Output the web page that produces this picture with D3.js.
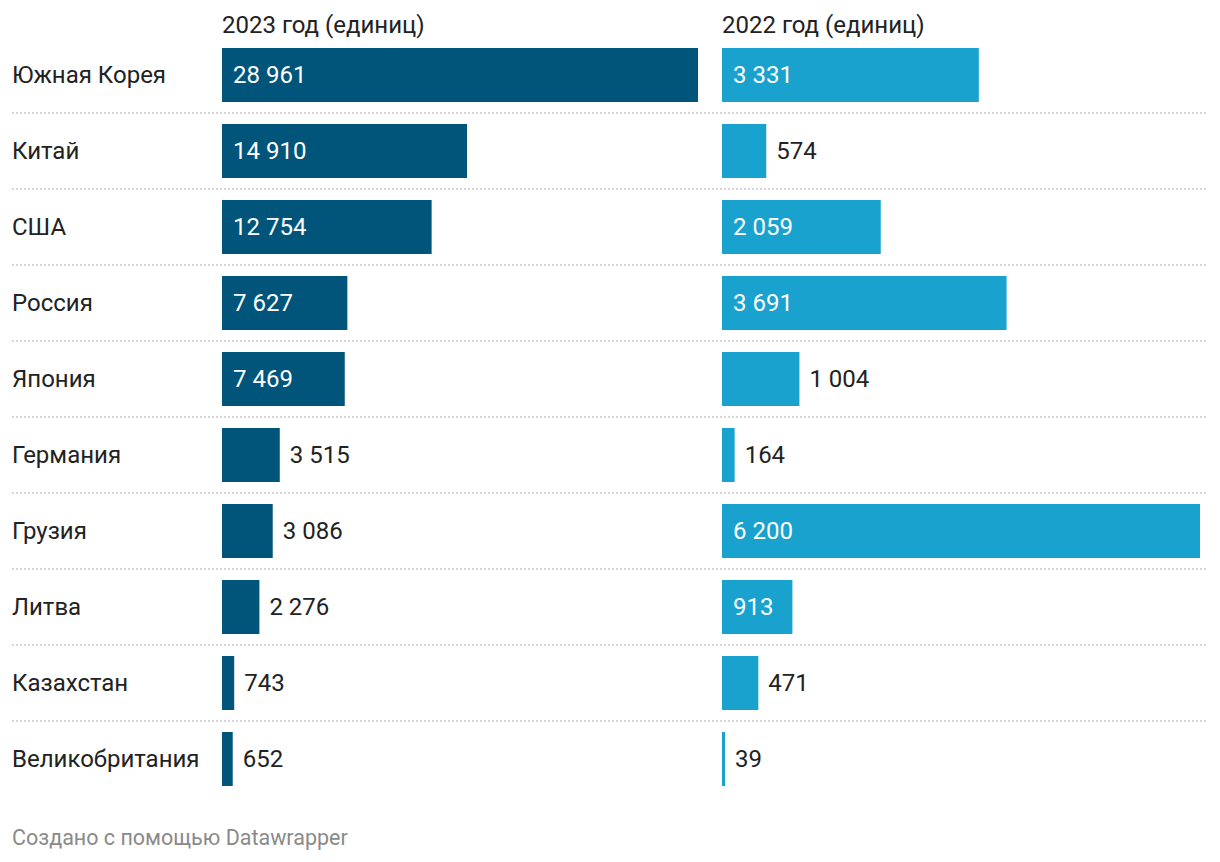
<!DOCTYPE html>
<html><head><meta charset="utf-8">
<script src="https://cdn.jsdelivr.net/npm/d3@7"></script>
<style>
body{margin:0;background:#fff;}
svg{font-family:Roboto,"Noto Sans",sans-serif;}
</style></head>
<body>
<svg id="chart" width="1220" height="862"></svg>
<script>
const countries = ["Южная Корея","Китай","США","Россия","Япония","Германия","Грузия","Литва","Казахстан","Великобритания"];
const values2023 = [28961,14910,12754,7627,7469,3515,3086,2276,743,652];
const values2022 = [3331,574,2059,3691,1004,164,6200,913,471,39];
const headers = ["2023 год (единиц)","2022 год (единиц)"];
const footer = "Создано с помощью Datawrapper";

const svg = d3.select("#chart");
const fmt = v => d3.format(",")(v).replace(/,/g," ");

const n = countries.length;
const y = d3.scaleBand().domain(countries).range([48, 48+76*n-22]).paddingInner(22/76).paddingOuter(0);
const cols = [
  {vals: values2023, x0: 222, x1: 698, color: "#01557b", header: headers[0]},
  {vals: values2022, x0: 722, x1: 1200, color: "#19a2ce", header: headers[1]}
];

// separators
const sepY = countries.slice(0,-1).map(c=> y(c)+y.bandwidth()+11);
svg.selectAll("line.sep").data(sepY).enter().append("line")
  .attr("x1",12).attr("x2",1208).attr("y1",d=>d).attr("y2",d=>d)
  .attr("stroke","#d6d6d6").attr("stroke-width",2).attr("stroke-dasharray","2,2");

// country labels
svg.selectAll("text.cat").data(countries).enter().append("text")
  .attr("x",12).attr("y",d=>y(d)+y.bandwidth()/2).attr("dy","0.35em")
  .attr("font-size",24).attr("fill","#222").text(d=>d);

cols.forEach(col=>{
  const x = d3.scaleLinear().domain([0, d3.max(col.vals)]).range([col.x0, col.x1]);
  svg.append("text").attr("x",col.x0).attr("y",33).attr("font-size",24).attr("fill","#222").text(col.header);
  const g = svg.append("g");
  countries.forEach((c,i)=>{
    const v = col.vals[i];
    const w = x(v)-x(0);
    g.append("rect").attr("x",x(0)).attr("y",y(c)).attr("width",w).attr("height",y.bandwidth()).attr("fill",col.color);
    const t = g.append("text").attr("y",y(c)+y.bandwidth()/2).attr("dy","0.35em").attr("font-size",24).text(fmt(v));
    const tw = t.node().getComputedTextLength();
    if (tw + 22 <= w) {
      t.attr("x", x(0)+11).attr("fill","#fff");
    } else {
      t.attr("x", x(v)+10).attr("fill","#222");
    }
  });
});

svg.append("text").attr("x",12).attr("y",845).attr("font-size",21.5).attr("fill","#8a8a8a").text(footer);
</script>
</body></html>
